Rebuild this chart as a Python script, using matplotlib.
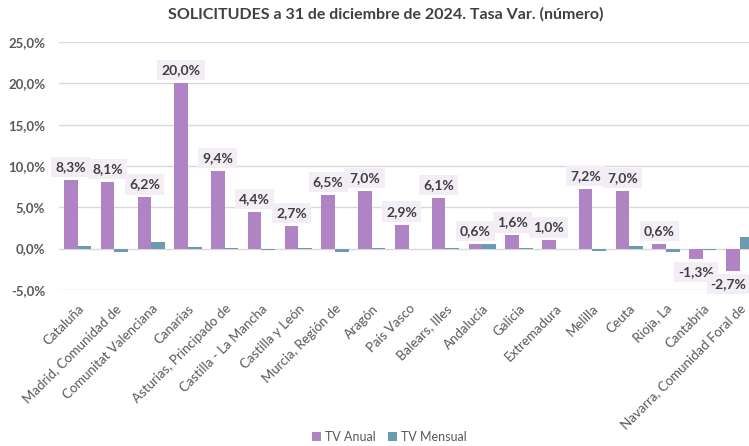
import numpy as np
import matplotlib.pyplot as plt

plt.rcParams['font.family'] = ['Lato', 'DejaVu Sans']

# Data
regiones = ['Cataluña', 'Madrid, Comunidad de', 'Comunitat Valenciana', 'Canarias',
            'Asturias, Principado de', 'Castilla - La Mancha', 'Castilla y León',
            'Murcia, Región de', 'Aragón', 'País Vasco', 'Balears, Illes', 'Andalucía',
            'Galicia', 'Extremadura', 'Melilla', 'Ceuta', 'Rioja, La', 'Cantabria',
            'Navarra, Comunidad Foral de']
tv_anual = [8.3, 8.1, 6.2, 20.0, 9.4, 4.4, 2.7, 6.5, 7.0, 2.9, 6.1, 0.6,
            1.6, 1.0, 7.2, 7.0, 0.6, -1.3, -2.7]
tv_mensual = [0.35, -0.45, 0.8, 0.2, 0.05, -0.2, 0.05, -0.4, 0.05, -0.05, 0.05, 0.5,
              0.05, -0.05, -0.3, 0.3, -0.4, -0.2, 1.45]
yticks = [-5, 0, 5, 10, 15, 20, 25]

c_anual = '#b084c4'
c_mensual = '#6a9bb0'
txt = '#595959'

fig = plt.figure(figsize=(7.49, 4.46), dpi=100)
ax = fig.add_axes([0.079, 0.350, 0.933, 0.556])

x = np.arange(len(regiones))
w = 0.37
ax.bar(x - w / 2, tv_anual, w, color=c_anual, label='TV Anual', zorder=3)
ax.bar(x + w / 2, tv_mensual, w, color=c_mensual, label='TV Mensual', zorder=3)

# data labels for annual variation (last one nudged left so it stays inside the figure)
for i, (xi, v) in enumerate(zip(x, tv_anual)):
    lab = f'{v:.1f}%'.replace('.', ',')
    off = 5 if v >= 0 else -5
    dx = -3 if i == len(x) - 1 else 0
    ax.annotate(lab, (xi - w / 2, v), xytext=(dx, off), textcoords='offset points',
                ha='center', va='bottom' if v >= 0 else 'top',
                fontsize=10, fontweight='bold', color='#404040', zorder=5,
                bbox=dict(boxstyle='square,pad=0.3', facecolor='#f3eef5', edgecolor='none'))

ax.set_ylim(-5, 25)
ax.set_xlim(-0.5, len(regiones) - 0.5)
ax.set_yticks(yticks)
ax.set_yticklabels([f'{t:.1f}%'.replace('.', ',') for t in yticks],
                   fontsize=9.5, fontweight='bold', color=txt)
ax.set_xticks(x)
ax.set_xticklabels(regiones, rotation=45, ha='right', rotation_mode='anchor',
                   fontsize=9.5, color=txt)
ax.tick_params(axis='both', length=0)
ax.tick_params(axis='x', pad=9)
ax.tick_params(axis='y', pad=10)
ax.grid(axis='y', color='#d9d9d9', linewidth=1, zorder=0)
for s in ax.spines.values():
    s.set_visible(False)

fig.suptitle('SOLICITUDES a 31 de diciembre de 2024. Tasa Var. (número)',
             x=0.515, y=0.985, fontsize=11.5, fontweight='bold', color='#404040')

fig.legend(loc='lower center', bbox_to_anchor=(0.52, -0.018), ncol=2, frameon=False,
           fontsize=9, labelcolor=txt, handlelength=0.7, handleheight=0.7,
           handletextpad=0.3, columnspacing=1.0)

fig.savefig('out.png', dpi=100)
